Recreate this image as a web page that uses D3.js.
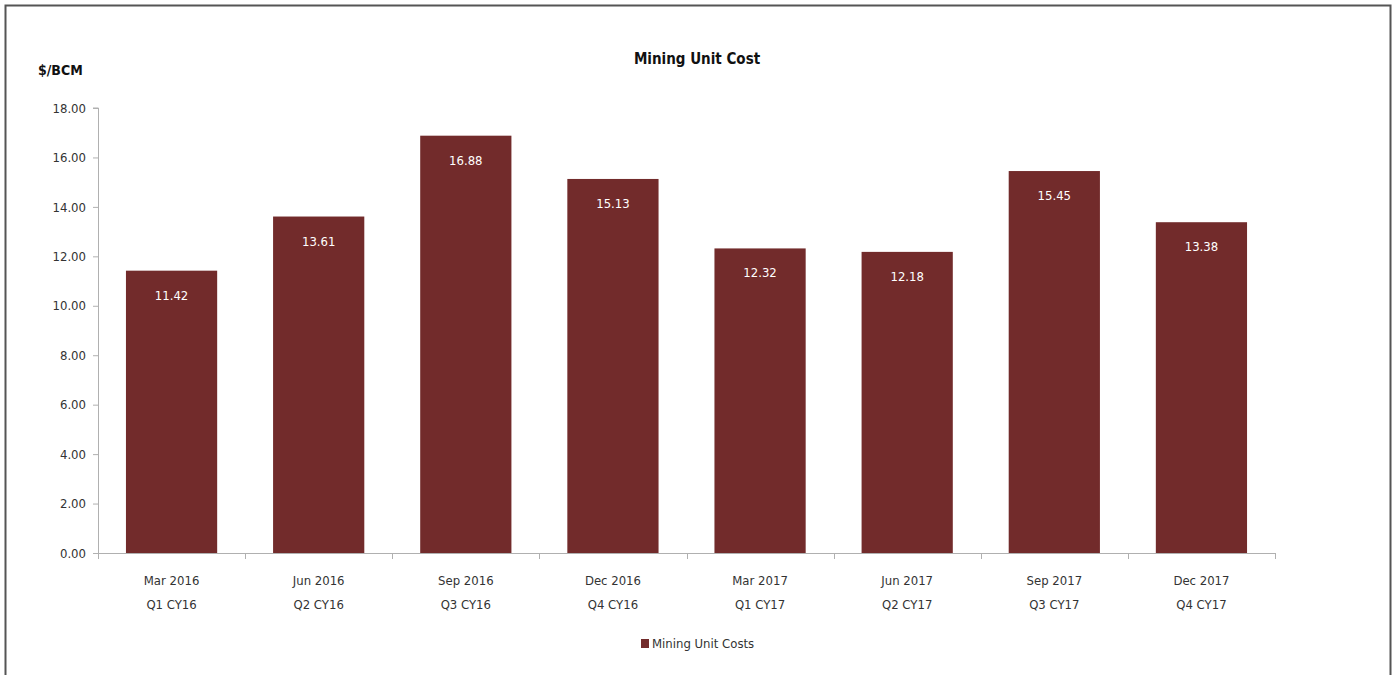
<!DOCTYPE html>
<html>
<head>
<meta charset="utf-8">
<script src="https://cdn.jsdelivr.net/npm/d3@7"></script>
<style>
  body { margin: 0; background: #fff; }
  text { font-family: "Liberation Sans Narrow", "DejaVu Sans Condensed", sans-serif; fill: #333; }
</style>
</head>
<body>
<script>
// chart data
var months = ["Mar 2016", "Jun 2016", "Sep 2016", "Dec 2016", "Mar 2017", "Jun 2017", "Sep 2017", "Dec 2017"];
var quarters = ["Q1 CY16", "Q2 CY16", "Q3 CY16", "Q4 CY16", "Q1 CY17", "Q2 CY17", "Q3 CY17", "Q4 CY17"];
var costs = [11.42, 13.61, 16.88, 15.13, 12.32, 12.18, 15.45, 13.38];
var yTicks = [0, 2, 4, 6, 8, 10, 12, 14, 16, 18];

const w = 1397;
const h = 675;
const pLeft = 98, pRight = 1275, pTop = 108, pBottom = 553;
const barColor = "#722b2b";

const svg = d3.select("body")
    .append("svg")
    .attr("width", w)
    .attr("height", h);

// outer frame
svg.append("rect")
    .attr("x", 5.5).attr("y", 5.5)
    .attr("width", 1385).attr("height", 700)
    .attr("fill", "none")
    .attr("stroke", "#555")
    .attr("stroke-width", 2);

const xScale = d3.scaleBand()
    .domain(d3.range(months.length))
    .range([pLeft, pRight])
    .paddingInner(0.38)
    .paddingOuter(0.19);

const yScale = d3.scaleLinear()
    .domain([0, 18])
    .range([pBottom, pTop]);

// bars
svg.selectAll("rect.bar")
    .data(costs)
    .enter()
    .append("rect")
    .attr("class", "bar")
    .attr("x", (d, i) => xScale(i))
    .attr("y", (d) => yScale(d))
    .attr("width", xScale.bandwidth())
    .attr("height", (d) => pBottom - yScale(d))
    .attr("fill", barColor);

// value labels inside bars
svg.selectAll("text.val")
    .data(costs)
    .enter()
    .append("text")
    .attr("class", "val")
    .attr("x", (d, i) => xScale(i) + xScale.bandwidth() / 2)
    .attr("y", (d) => yScale(d) + 29)
    .attr("text-anchor", "middle")
    .style("fill", "#fff")
    .style("font-size", "13px")
    .text((d) => d.toFixed(2));

// y axis
const yAxis = d3.axisLeft(yScale)
    .tickValues(yTicks)
    .tickSize(5)
    .tickPadding(7)
    .tickFormat((d) => d.toFixed(2));

const gy = svg.append("g")
    .attr("transform", "translate(" + pLeft + ",0)")
    .call(yAxis);
gy.selectAll("path, line").attr("stroke", "#b0b0b0");
gy.select(".domain").attr("d", "M-5," + pTop + "H0.5V" + pBottom);
gy.selectAll("text").style("font-size", "13px").style("fill", "#333");

// x axis line and boundary ticks
const step = xScale.step();
svg.append("line")
    .attr("x1", pLeft).attr("x2", pRight)
    .attr("y1", pBottom + 0.5).attr("y2", pBottom + 0.5)
    .attr("stroke", "#b0b0b0");
svg.selectAll("line.xtick")
    .data(d3.range(months.length + 1))
    .enter()
    .append("line")
    .attr("class", "xtick")
    .attr("x1", (d) => Math.round(pLeft + d * step) + 0.5)
    .attr("x2", (d) => Math.round(pLeft + d * step) + 0.5)
    .attr("y1", pBottom)
    .attr("y2", pBottom + 6)
    .attr("stroke", "#b0b0b0");

// category labels (two lines)
const xl = svg.selectAll("text.xl")
    .data(months)
    .enter()
    .append("text")
    .attr("class", "xl")
    .attr("text-anchor", "middle")
    .style("font-size", "13px")
    .attr("x", (d, i) => xScale(i) + xScale.bandwidth() / 2)
    .attr("y", 585);
xl.append("tspan").text((d) => d);
xl.append("tspan")
    .attr("x", (d, i) => xScale(i) + xScale.bandwidth() / 2)
    .attr("dy", 24)
    .text((d, i) => quarters[i]);

// title
svg.append("text")
    .attr("x", 697)
    .attr("y", 64)
    .attr("text-anchor", "middle")
    .style("font-size", "15px")
    .style("font-weight", "bold")
    .style("fill", "#111")
    .text("Mining Unit Cost");

// unit label
svg.append("text")
    .attr("x", 38)
    .attr("y", 75)
    .style("font-size", "14px")
    .style("font-weight", "bold")
    .style("fill", "#111")
    .text("$/BCM");

// legend
svg.append("rect")
    .attr("x", 641).attr("y", 639)
    .attr("width", 8).attr("height", 9)
    .attr("fill", barColor);
svg.append("text")
    .attr("x", 652)
    .attr("y", 648)
    .style("font-size", "13px")
    .text("Mining Unit Costs");
</script>
</body>
</html>
